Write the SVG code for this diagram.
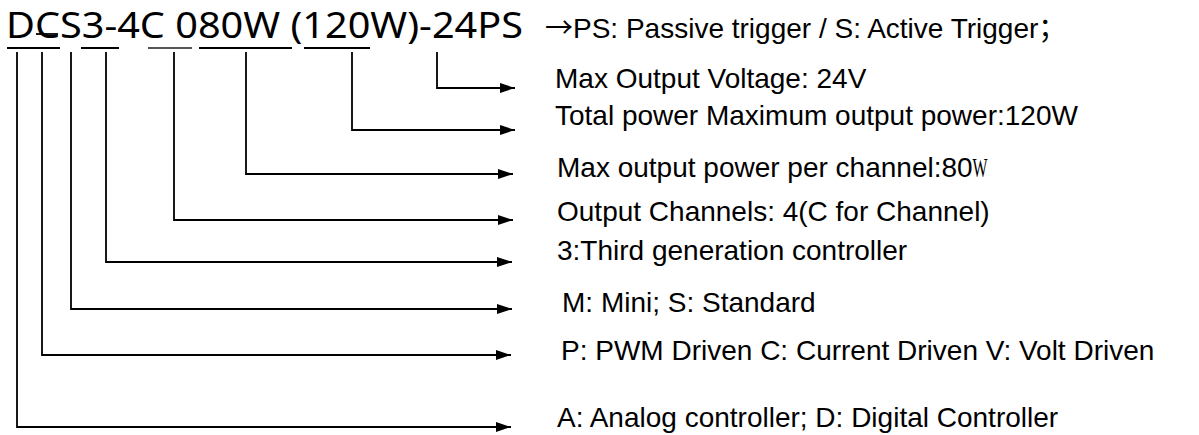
<svg xmlns="http://www.w3.org/2000/svg" width="1199" height="435" viewBox="0 0 1199 435">
<style>
.t{font-family:"Liberation Sans","Noto Sans CJK SC",sans-serif;font-size:28px;fill:#000}
.title{font-family:"Noto Sans","Open Sans",sans-serif;font-size:35.5px;fill:#000}
.c{fill:none;stroke:#000;stroke-width:1.8}
.u{stroke:#000;stroke-width:1.8}
</style>
<defs>
<marker id="ah" markerUnits="userSpaceOnUse" markerWidth="16" markerHeight="12" refX="15" refY="5" orient="auto">
<path d="M0,0 L15,5 L0,10 Z" fill="#000"/>
</marker>
</defs>
<rect width="1199" height="435" fill="#fff"/>
<g id="code">
<text class="title" x="6" y="38" textLength="517" lengthAdjust="spacingAndGlyphs">DCS3-4C 080W (120W)-24PS</text>
<line class="u" x1="36" y1="34" x2="58" y2="34"/>
<line class="u" x1="7" y1="48" x2="60" y2="48"/>
<line class="u" x1="81" y1="48" x2="119" y2="48"/>
<line x1="148" y1="48" x2="192" y2="48" stroke="#555" stroke-width="2"/>
<line class="u" x1="199" y1="48" x2="292" y2="48"/>
<line class="u" x1="304" y1="48" x2="370" y2="48"/>
</g>
<g id="connectors">
<path class="c" marker-end="url(#ah)" d="M437,52 V88 H515"/>
<path class="c" marker-end="url(#ah)" d="M352,52 V130 H515"/>
<path class="c" marker-end="url(#ah)" d="M246,52 V174 H513"/>
<path class="c" marker-end="url(#ah)" d="M174,52 V220 H513"/>
<path class="c" marker-end="url(#ah)" d="M106,52 V262 H512"/>
<path class="c" marker-end="url(#ah)" d="M71,52 V309 H512"/>
<path class="c" marker-end="url(#ah)" d="M42,52 V355 H511"/>
<path class="c" marker-end="url(#ah)" d="M17,52 V427 H511"/>
</g>
<g id="trigger"><text class="t" x="545" y="38"><tspan font-family="Noto Sans CJK SC, sans-serif">→</tspan>PS: Passive trigger / S: Active Trigger；</text></g>
<g id="voltage"><text class="t" x="555" y="88">Max Output Voltage: 24V</text></g>
<g id="total"><text class="t" x="555" y="125">Total power Maximum output power:120W</text></g>
<g id="perchannel"><text class="t" x="557" y="177">Max output power per channel:80<tspan font-family="Liberation Serif" textLength="15" lengthAdjust="spacingAndGlyphs">W</tspan></text></g>
<g id="channels"><text class="t" x="557" y="221">Output Channels: 4(C for Channel)</text></g>
<g id="generation"><text class="t" x="557" y="260">3:Third generation controller</text></g>
<g id="size"><text class="t" x="562" y="312">M: Mini; S: Standard</text></g>
<g id="drive"><text class="t" x="561" y="360">P: PWM Driven C: Current Driven V: Volt Driven</text></g>
<g id="type"><text class="t" x="557" y="427">A: Analog controller; D: Digital Controller</text></g>
</svg>
